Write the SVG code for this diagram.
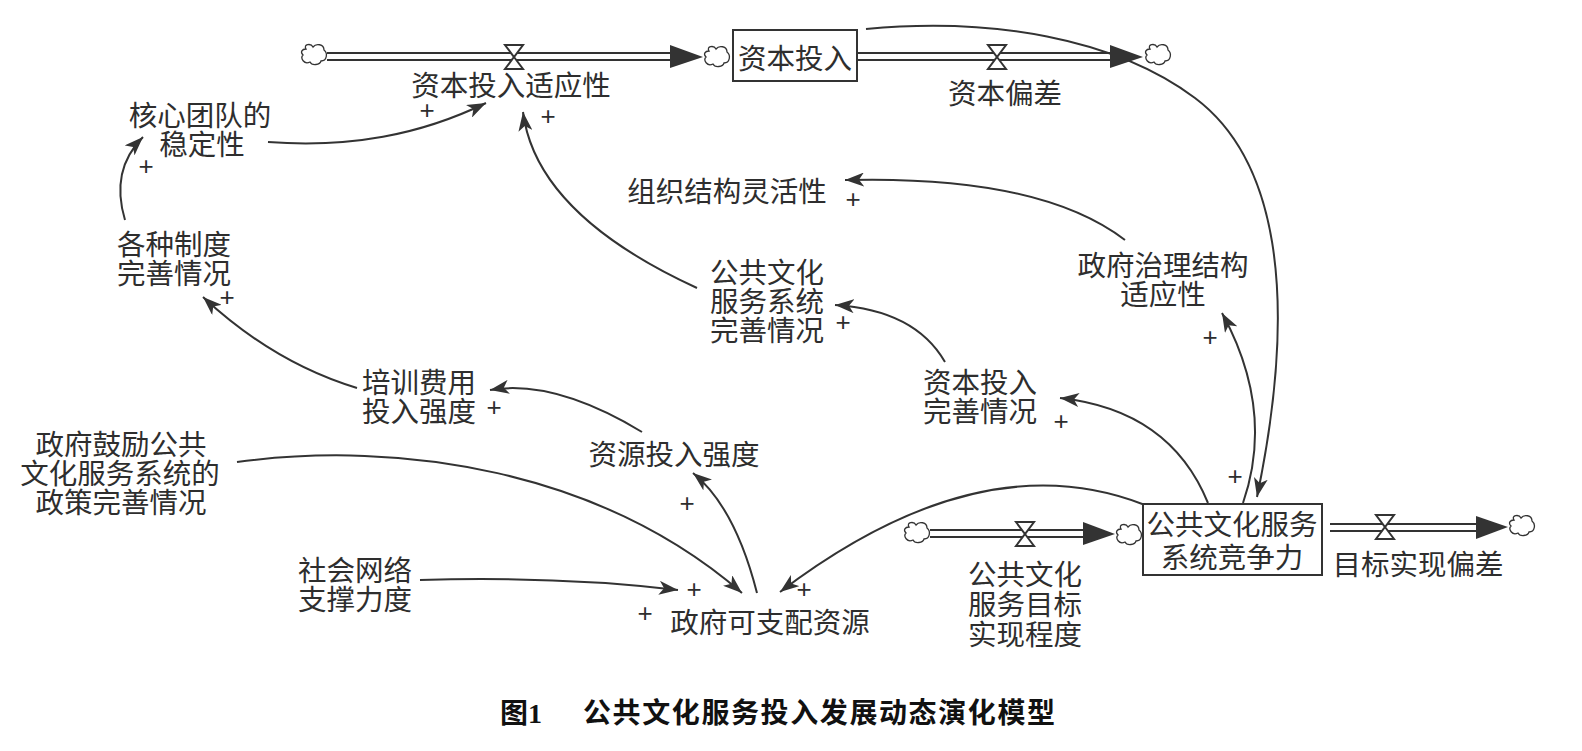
<svg xmlns="http://www.w3.org/2000/svg" width="1582" height="751" viewBox="0 0 1582 751">
<style>
.t{font-family:"Noto Sans CJK SC","Liberation Sans",sans-serif;font-size:28.5px;fill:#2e2e2e;text-anchor:middle;dominant-baseline:central}
.p{font-family:"Liberation Sans","Noto Sans CJK SC",sans-serif;font-size:26px;fill:#2e2e2e;text-anchor:middle;dominant-baseline:central}
.c{fill:none;stroke:#333;stroke-width:2;marker-end:url(#ah)}
.pipe{stroke:#333;stroke-width:2.2;fill:none}
.box{fill:#fff;stroke:#333;stroke-width:2}
.cl{fill:#fff;stroke:#333;stroke-width:1.3}
.v{fill:#fff;stroke:#333;stroke-width:2}
.fa{fill:#333}
.cap{font-family:"Liberation Serif","Noto Sans CJK SC",serif;font-size:28px;font-weight:bold;fill:#111;dominant-baseline:central}
</style>
<defs>
<marker id="ah" markerUnits="userSpaceOnUse" markerWidth="20" markerHeight="14" refX="19" refY="7" orient="auto">
<path d="M0,0 L19,7 L0,14 L5,7 Z" fill="#333"/>
</marker>
<path id="cloud" class="cl" d="M-8,-6 C-11,-11 -3,-12 -1,-8 C2,-12 10,-11 10,-5 C14,-2 13,6 7,6 C6,10 -2,11 -4,7 C-10,10 -14,3 -11,0 C-14,-3 -12,-6 -8,-6 Z"/>
<path id="valve" class="v" d="M-9,-12 L9,-12 L0,0 Z M0,0 L9,12 L-9,12 Z"/>
</defs>

<g id="connectors">
<path class="c" d="M268,142 C350,148 420,135 486,103"/>
<path class="c" d="M125,220 Q110,170 143,137"/>
<path class="c" d="M357,388 Q274,363 203,297"/>
<path class="c" d="M642,432 Q554,379 490,390"/>
<path class="c" d="M757,593 Q735,507 693,473"/>
<path class="c" d="M237,462 C400,440 600,470 742,593"/>
<path class="c" d="M420,580 Q560,576 678,590"/>
<path class="c" d="M1145,505 Q980,440 780,592"/>
<path class="c" d="M1208,503 Q1170,410 1060,398"/>
<path class="c" d="M1243,503 Q1275,410 1222,313"/>
<path class="c" d="M1125,240 Q1040,175 845,180"/>
<path class="c" d="M945,362 Q915,310 835,305"/>
<path class="c" d="M697,288 Q536,214 523,112"/>
<path class="c" d="M866,29 C990,17 1115,38 1195,98 S1300,290 1257,497"/>
</g>

<g id="flow-capital-in">
<path class="pipe" d="M327,53 L672,53 M327,60 L672,60"/>
<polygon class="fa" points="670,45 703,57 670,68"/>
<use href="#cloud" x="314" y="55"/>
<use href="#cloud" x="717" y="57"/>
<use href="#valve" x="514" y="57"/>
<text class="t" x="511" y="83">资本投入适应性</text>
</g>

<g id="node-capital">
<rect class="box" x="733" y="30" width="124" height="51"/>
<text class="t" x="795" y="56">资本投入</text>
</g>

<g id="flow-capital-dev">
<path class="pipe" d="M857,53 L1112,53 M857,60 L1112,60"/>
<polygon class="fa" points="1110,45 1143,57 1110,68"/>
<use href="#cloud" x="1158" y="55"/>
<use href="#valve" x="997" y="57"/>
<text class="t" x="1005" y="91">资本偏差</text>
</g>

<g id="node-team"><text class="t"><tspan x="200" y="113">核心团队的</tspan><tspan x="202" y="142">稳定性</tspan></text></g>
<g id="node-system"><text class="t"><tspan x="174" y="242">各种制度</tspan><tspan x="174" y="271">完善情况</tspan></text></g>
<g id="node-training"><text class="t"><tspan x="419" y="380">培训费用</tspan><tspan x="419" y="409">投入强度</tspan></text></g>
<g id="node-resource"><text class="t" x="674" y="452">资源投入强度</text></g>
<g id="node-policy"><text class="t"><tspan x="121" y="442">政府鼓励公共</tspan><tspan x="120" y="471">文化服务系统的</tspan><tspan x="121" y="500">政策完善情况</tspan></text></g>
<g id="node-social"><text class="t"><tspan x="355" y="568">社会网络</tspan><tspan x="355" y="597">支撑力度</tspan></text></g>
<g id="node-govres"><text class="t" x="770" y="620">政府可支配资源</text></g>
<g id="node-org"><text class="t" x="727" y="189">组织结构灵活性</text></g>
<g id="node-pcss"><text class="t"><tspan x="767" y="270">公共文化</tspan><tspan x="767" y="299">服务系统</tspan><tspan x="767" y="328">完善情况</tspan></text></g>
<g id="node-capimp"><text class="t"><tspan x="980" y="380">资本投入</tspan><tspan x="980" y="409">完善情况</tspan></text></g>
<g id="node-gov"><text class="t"><tspan x="1163" y="263">政府治理结构</tspan><tspan x="1163" y="292">适应性</tspan></text></g>

<g id="flow-target">
<path class="pipe" d="M930,530 L1085,530 M930,537 L1085,537"/>
<polygon class="fa" points="1083,522 1115,534 1083,545"/>
<use href="#cloud" x="917" y="533"/>
<use href="#cloud" x="1129" y="535"/>
<use href="#valve" x="1025" y="534"/>
<text class="t"><tspan x="1025" y="572">公共文化</tspan><tspan x="1025" y="602">服务目标</tspan><tspan x="1025" y="632">实现程度</tspan></text>
</g>

<g id="node-competitiveness">
<rect class="box" x="1143" y="504" width="179" height="71"/>
<text class="t"><tspan x="1232" y="522">公共文化服务</tspan><tspan x="1232" y="555">系统竞争力</tspan></text>
</g>

<g id="flow-goal-dev">
<path class="pipe" d="M1330,524 L1478,524 M1330,531 L1478,531"/>
<polygon class="fa" points="1476,516 1508,527 1476,539"/>
<use href="#cloud" x="1522" y="526"/>
<use href="#valve" x="1385" y="527"/>
<text class="t" x="1418" y="562">目标实现偏差</text>
</g>

<g id="polarities">
<text class="p" x="427" y="110">+</text>
<text class="p" x="548" y="116">+</text>
<text class="p" x="146" y="166">+</text>
<text class="p" x="227" y="297">+</text>
<text class="p" x="853" y="199">+</text>
<text class="p" x="843" y="322">+</text>
<text class="p" x="494" y="407">+</text>
<text class="p" x="687" y="503">+</text>
<text class="p" x="694" y="589">+</text>
<text class="p" x="804" y="589">+</text>
<text class="p" x="645" y="613">+</text>
<text class="p" x="1061" y="421">+</text>
<text class="p" x="1210" y="337">+</text>
<text class="p" x="1235" y="476">+</text>
</g>

<g id="caption">
<text class="cap" x="500" y="713">图1</text>
<text class="cap" x="583" y="713" letter-spacing="1.6">公共文化服务投入发展动态演化模型</text>
</g>
</svg>
